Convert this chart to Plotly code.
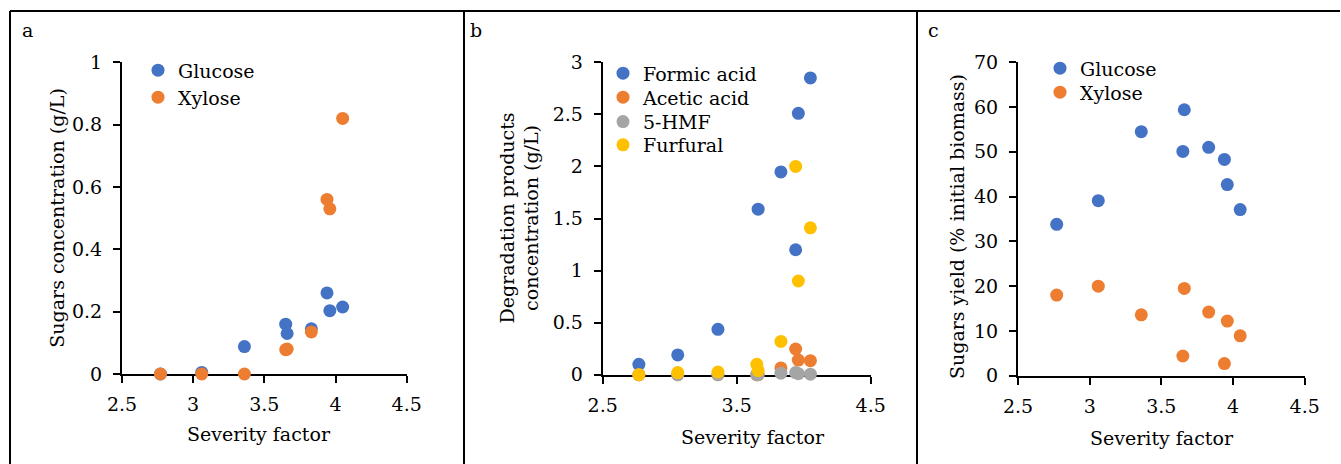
import plotly.graph_objects as go

# ---------------- data ----------------
severity = [2.77, 3.06, 3.36, 3.65, 3.66, 3.83, 3.94, 3.96, 4.05]

# panel a: sugars concentration (g/L)
glucose_conc = [0.0, 0.005, 0.088, 0.16, 0.13, 0.145, 0.26, 0.203, 0.215]
xylose_conc = [0.0, 0.0, 0.0, 0.078, 0.08, 0.135, 0.56, 0.53, 0.82]

# panel b: degradation products concentration (g/L)
formic_acid = [0.10, 0.19, 0.436, None, 1.59, 1.947, 1.20, 2.51, 2.85]
acetic_acid = [0.0, 0.0, 0.0, 0.0, 0.0, 0.065, 0.247, 0.14, 0.135]
hmf = [0.0, 0.0, 0.0, 0.0, 0.0, 0.015, 0.02, 0.01, 0.005]
furfural = [0.0, 0.02, 0.025, 0.10, 0.04, 0.32, 2.0, 0.90, 1.41]

# panel c: sugars yield (% initial biomass)
glucose_yield = [33.8, 39.1, 54.5, 50.1, 59.4, 51.0, 48.3, 42.7, 37.1]
xylose_yield = [18.0, 20.0, 13.6, 4.4, 19.5, 14.2, 2.7, 12.2, 8.9]

x_title = "Severity factor"
y_titles = ["Sugars concentration (g/L)",
            "Degradation products<br>concentration (g/L)",
            "Sugars yield (% initial biomass)"]
panel_labels = ["a", "b", "c"]

BLUE, ORANGE, GRAY, GOLD = "#4472C4", "#ED7D31", "#A5A5A5", "#FFC000"

W, H = 1341, 464
FONT = "DejaVu Serif"
FS = 19


def px(x):
    return x / W


def py(y):
    return 1 - y / H


fig = go.Figure()

# legend entry positions (left edge x, row centre y) in pixels
legend_pos = []


def add(x, y, name, color, xa, ya, lx, ly):
    n = len(legend_pos) + 1
    lname = "legend" if n == 1 else "legend%d" % n
    legend_pos.append((lname, lx, ly))
    fig.add_trace(go.Scatter(
        x=x, y=y, mode="markers", name=name,
        marker=dict(size=13, color=color),
        xaxis=xa, yaxis=ya, legend=lname,
        cliponaxis=False,
    ))


add(severity, glucose_conc, "Glucose", BLUE, "x", "y", 138, 70.3)
add(severity, xylose_conc, "Xylose", ORANGE, "x", "y", 138, 97.3)

add(severity, formic_acid, "Formic acid", BLUE, "x2", "y2", 603, 73.3)
add(severity, acetic_acid, "Acetic acid", ORANGE, "x2", "y2", 603, 97.3)
add(severity, hmf, "5-HMF", GRAY, "x2", "y2", 603, 121.7)
add(severity, furfural, "Furfural", GOLD, "x2", "y2", 603, 145)

add(severity, glucose_yield, "Glucose", BLUE, "x3", "y3", 1040, 68.3)
add(severity, xylose_yield, "Xylose", ORANGE, "x3", "y3", 1040, 92.3)

axis_common = dict(
    showline=True, linecolor="black", linewidth=2,
    ticks="outside", ticklen=7, tickwidth=2, tickcolor="black",
    showgrid=False, zeroline=False, layer="below traces",
    automargin=False,
    tickfont=dict(family=FONT, size=FS, color="black"),
)

# plot-area pixel boxes: (x0, x1, ytop, ybottom)
boxes = [(122, 406.7, 62.3, 374.0),
         (602.7, 870.7, 62.3, 374.7),
         (1018, 1304.7, 62.3, 375.7)]
xdticks = [0.5, 1, 0.5]
yranges = [[0, 1], [0, 3], [0, 70]]
ydticks = [0.2, 0.5, 10]

layout = {}
for i, (b, xd, yr, yd) in enumerate(zip(boxes, xdticks, yranges, ydticks)):
    sfx = "" if i == 0 else str(i + 1)
    layout["xaxis" + sfx] = dict(axis_common, domain=[px(b[0]), px(b[1])],
                                  range=[2.5, 4.5], dtick=xd, tick0=2.5,
                                  ticklabelstandoff=5,
                                  anchor="y" + sfx)
    layout["yaxis" + sfx] = dict(axis_common, domain=[py(b[3]), py(b[2])],
                                  range=yr, dtick=yd, tick0=0,
                                  ticklabelstandoff=7,
                                  anchor="x" + sfx)

for lname, lx, ly in legend_pos:
    layout[lname] = dict(font=dict(family=FONT, size=FS, color="black"),
                         bgcolor="rgba(0,0,0,0)", xanchor="left",
                         yanchor="middle", x=px(lx), y=py(ly))

annotations = []
# x-axis titles
for cx, cy in [(258.8, 434), (752.5, 436.7), (1161.7, 437.7)]:
    annotations.append(dict(text=x_title, x=px(cx), y=py(cy), xref="paper",
                            yref="paper", showarrow=False,
                            xanchor="center", yanchor="middle",
                            font=dict(family=FONT, size=FS, color="black")))
# y-axis titles
for txt, (cx, cy) in zip(y_titles, [(56.7, 218), (519, 218.5), (956.3, 226.7)]):
    annotations.append(dict(text=txt, x=px(cx), y=py(cy), xref="paper",
                            yref="paper", showarrow=False, textangle=-90,
                            xanchor="center", yanchor="middle",
                            font=dict(family=FONT, size=FS, color="black")))
# panel labels
for lab, (cx, cy) in zip(panel_labels, [(27, 30), (476, 30), (933, 30)]):
    annotations.append(dict(text=lab, x=px(cx), y=py(cy), xref="paper",
                            yref="paper", showarrow=False,
                            xanchor="center", yanchor="middle",
                            font=dict(family=FONT, size=FS, color="black")))

# panel frame lines
frame = dict(type="line", xref="paper", yref="paper",
             line=dict(color="black", width=2))
shapes = [dict(frame, x0=px(10), x1=px(1340), y0=py(11), y1=py(11))]
for xv in [10, 464, 917]:
    shapes.append(dict(frame, x0=px(xv), x1=px(xv), y0=py(11), y1=0))

fig.update_layout(
    width=W, height=H,
    margin=dict(l=0, r=0, t=0, b=0, pad=0, autoexpand=False),
    paper_bgcolor="white", plot_bgcolor="white",
    annotations=annotations, shapes=shapes, showlegend=True,
    **layout,
)

fig.write_html(
    "out.html",
    config={"displayModeBar": False},
    post_script="document.body.style.margin='0';"
                "document.body.style.padding='0';"
                "document.body.style.overflow='hidden';",
)
